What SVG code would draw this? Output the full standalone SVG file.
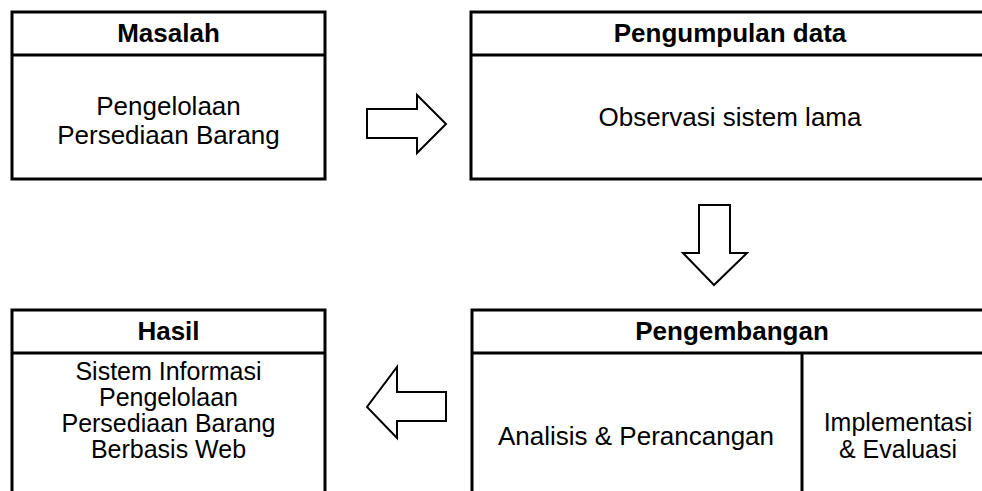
<svg xmlns="http://www.w3.org/2000/svg" width="982" height="491" viewBox="0 0 982 491">
<style>
.box{fill:#fff;stroke:#000;stroke-width:3}
.ln{stroke:#000;stroke-width:3;fill:none}
.arr{fill:#fff;stroke:#000;stroke-width:2;stroke-linejoin:miter}
text{font-family:"Liberation Sans",Arial,sans-serif;font-size:26px;fill:#000;text-anchor:middle}
.h{font-weight:bold}
.t{font-size:25px}
</style>
<rect width="982" height="491" fill="#fff"/>
<g id="masalah">
<rect class="box" x="12" y="12" width="313" height="167"/>
<line class="ln" x1="12" y1="55" x2="325" y2="55"/>
<text class="h" x="168.5" y="42">Masalah</text>
<text x="168.5" y="115">Pengelolaan</text>
<text x="168.5" y="144">Persediaan Barang</text>
</g>
<g id="pengumpulan">
<rect class="box" x="471" y="12" width="523" height="167"/>
<line class="ln" x1="471" y1="55" x2="994" y2="55"/>
<text class="h" x="730" y="42">Pengumpulan data</text>
<text x="730" y="126">Observasi sistem lama</text>
</g>
<g id="pengembangan">
<rect class="box" x="472" y="310" width="523" height="200"/>
<line class="ln" x1="472" y1="353" x2="995" y2="353"/>
<line class="ln" x1="802" y1="353" x2="802" y2="510"/>
<text class="h" x="732" y="340">Pengembangan</text>
<text x="636" y="445">Analisis &amp; Perancangan</text>
<text class="t" x="898" y="431">Implementasi</text>
<text class="t" x="898" y="457.5">&amp; Evaluasi</text>
</g>
<g id="hasil">
<rect class="box" x="12" y="310" width="313" height="200"/>
<line class="ln" x1="12" y1="353" x2="325" y2="353"/>
<text class="h" x="168.5" y="340">Hasil</text>
<text class="t" x="168.5" y="380">Sistem Informasi</text>
<text class="t" x="168.5" y="406">Pengelolaan</text>
<text class="t" x="168.5" y="432">Persediaan Barang</text>
<text class="t" x="168.5" y="458">Berbasis Web</text>
</g>
<g id="connectors">
<polygon class="arr" points="367,109 417,109 417,95 446,124 417,153 417,138 367,138"/>
<polygon class="arr" points="699,205 730,205 730,253 747,253 714,285 683,253 699,253"/>
<polygon class="arr" points="446,392 397,392 397,367 367,407 397,438 397,421 446,421"/>
</g>
</svg>
